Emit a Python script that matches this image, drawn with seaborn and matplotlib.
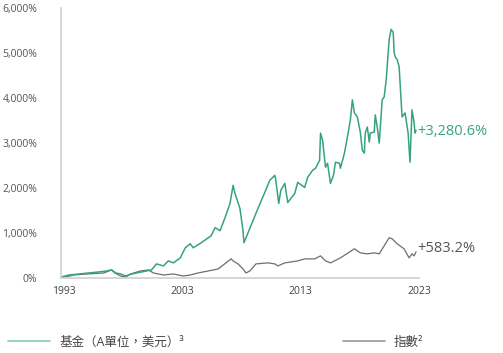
import matplotlib
matplotlib.use("Agg")
import matplotlib.pyplot as plt
import seaborn as sns
import pandas as pd

# --- Datos ---
fondo_anios = [1992.75, 1993.42, 1994.26, 1995.10, 1995.94, 1996.61, 1997.03, 1997.37, 1997.79, 1998.21,
               1998.71, 1999.55, 2000.39, 2000.82, 2001.40, 2001.82, 2002.24, 2002.83, 2003.25, 2003.67,
               2003.92, 2004.60, 2005.44, 2005.77, 2006.19, 2006.61, 2007.03, 2007.29, 2007.45, 2007.71,
               2007.87, 2008.13, 2008.21, 2008.38, 2008.80, 2009.39, 2009.97, 2010.39, 2010.82, 2010.90,
               2011.15, 2011.32, 2011.66, 2011.91, 2012.50, 2012.75, 2013.34, 2013.59, 2014.01, 2014.26,
               2014.60, 2014.68, 2014.85, 2015.10, 2015.27, 2015.52, 2015.77, 2015.94, 2016.28, 2016.36,
               2016.70, 2016.95, 2017.20, 2017.37, 2017.54, 2017.79, 2018.04, 2018.21, 2018.38, 2018.46,
               2018.63, 2018.80, 2018.88, 2019.22, 2019.30, 2019.47, 2019.64, 2019.89, 2020.06, 2020.23,
               2020.48, 2020.56, 2020.65, 2020.82, 2020.90, 2020.98, 2021.15, 2021.32, 2021.57, 2021.82,
               2022.08, 2022.24, 2022.41, 2022.58, 2022.66, 2022.75]
fondo_valores = [22, 67, 89, 112, 134, 157, 179, 112, 89, 45,
                 89, 134, 179, 313, 268, 380, 336, 447, 671, 761,
                 671, 783, 940, 1119, 1051, 1342, 1655, 2058, 1879, 1678,
                 1544, 1051, 783, 895, 1163, 1544, 1901, 2170, 2282, 2170,
                 1655, 1946, 2103, 1678, 1879, 2125, 2013, 2237, 2394, 2438,
                 2617, 3221, 3065, 2461, 2550, 2103, 2282, 2573, 2550, 2438,
                 2774, 3132, 3512, 3959, 3669, 3579, 3244, 2841, 2774, 3221,
                 3355, 3020, 3221, 3244, 3624, 3355, 2998, 3959, 4027, 4407,
                 5302, 5413, 5525, 5458, 5011, 4921, 4854, 4698, 3579, 3669,
                 3221, 2573, 3736, 3467, 3221, 3281]

indice_anios = [1992.75, 1993.84, 1994.93, 1996.36, 1997.03, 1997.20, 1997.45, 1997.79, 1998.21, 1998.63,
                1999.47, 2000.14, 2000.56, 2001.40, 2002.24, 2003.08, 2003.67, 2004.34, 2006.03, 2007.12,
                2007.29, 2007.71, 2008.13, 2008.38, 2008.71, 2009.22, 2010.23, 2010.82, 2011.07, 2011.66,
                2012.75, 2013.34, 2014.18, 2014.68, 2015.10, 2015.52, 2016.36, 2017.54, 2018.04, 2018.63,
                2019.22, 2019.64, 2020.06, 2020.48, 2020.73, 2021.15, 2021.74, 2022.16, 2022.41, 2022.58,
                2022.75]
indice_valores = [0, 67, 89, 112, 179, 134, 89, 45, 22, 89,
                  157, 179, 112, 67, 89, 45, 67, 112, 201, 425,
                  380, 313, 201, 112, 157, 313, 336, 313, 268, 336,
                  380, 425, 425, 492, 380, 336, 447, 649, 559, 537,
                  559, 537, 716, 895, 872, 761, 649, 447, 537, 492,
                  583]

etiquetas_x = [1993, 2003, 2013, 2023]
ticks_y = [0, 1000, 2000, 3000, 4000, 5000, 6000]
etiqueta_fondo = "+3,280.6%"
etiqueta_indice = "+583.2%"
nombre_fondo = "基金（A單位，美元）³"
nombre_indice = "指數²"

df_fondo = pd.DataFrame({"anio": fondo_anios, "valor": fondo_valores})
df_indice = pd.DataFrame({"anio": indice_anios, "valor": indice_valores})

# --- Estilo ---
sns.set_style("white")
plt.rcParams["font.family"] = ["Open Sans", "Noto Sans CJK TC", "DejaVu Sans"]

verde = "#35a47c"
gris = "#6e6e6e"

fig = plt.figure(figsize=(5.03, 3.53), dpi=100)
ax = fig.add_axes([61 / 503, 1 - 278 / 353, (419 - 61) / 503, (278 - 8) / 353])

sns.lineplot(data=df_indice, x="anio", y="valor", ax=ax, color=gris, linewidth=0.9)
sns.lineplot(data=df_fondo, x="anio", y="valor", ax=ax, color=verde, linewidth=1.1)

ax.set_xlim(1992.75, 2022.75)
ax.set_ylim(0, 6000)
ax.set_xticks(etiquetas_x)
ax.set_xticklabels([str(a) for a in etiquetas_x])
ax.set_yticks(ticks_y)
ax.set_yticklabels([f"{v:,}%" for v in ticks_y])
ax.set_xlabel("")
ax.set_ylabel("")

for lado in ["top", "right"]:
    ax.spines[lado].set_visible(False)
for lado in ["left", "bottom"]:
    ax.spines[lado].set_color("#d0d0d0")
    ax.spines[lado].set_linewidth(1.2)

ax.tick_params(axis="y", length=3, width=0.8, color="#d0d0d0", labelsize=7.5,
               labelcolor="#555555", pad=14)
ax.tick_params(axis="x", length=0, labelsize=7.5, labelcolor="#444444", pad=6)

# --- Etiquetas finales ---
ax.annotate(etiqueta_fondo, xy=(fondo_anios[-1], fondo_valores[-1]), xytext=(1, -1),
            textcoords="offset points", color=verde, fontsize=10.5, va="center", ha="left",
            annotation_clip=False)
ax.annotate(etiqueta_indice, xy=(indice_anios[-1], indice_valores[-1]), xytext=(1, 2),
            textcoords="offset points", color="#555555", fontsize=10.5, va="center", ha="left",
            annotation_clip=False)

# --- Leyenda ---
h1 = plt.Line2D([], [], color="#7fcfae", linewidth=1.2)
h2 = plt.Line2D([], [], color="#9a9a9a", linewidth=1.2)
fig.legend([h1, h2], [nombre_fondo, nombre_indice], loc="center left",
           bbox_to_anchor=(8 / 503, 1 - 342 / 353), ncol=2, frameon=False,
           fontsize=9, handlelength=3.4, handletextpad=0.7, columnspacing=12.7,
           borderaxespad=0, borderpad=0, labelcolor="#444444")

fig.savefig("out.png", dpi=100)
